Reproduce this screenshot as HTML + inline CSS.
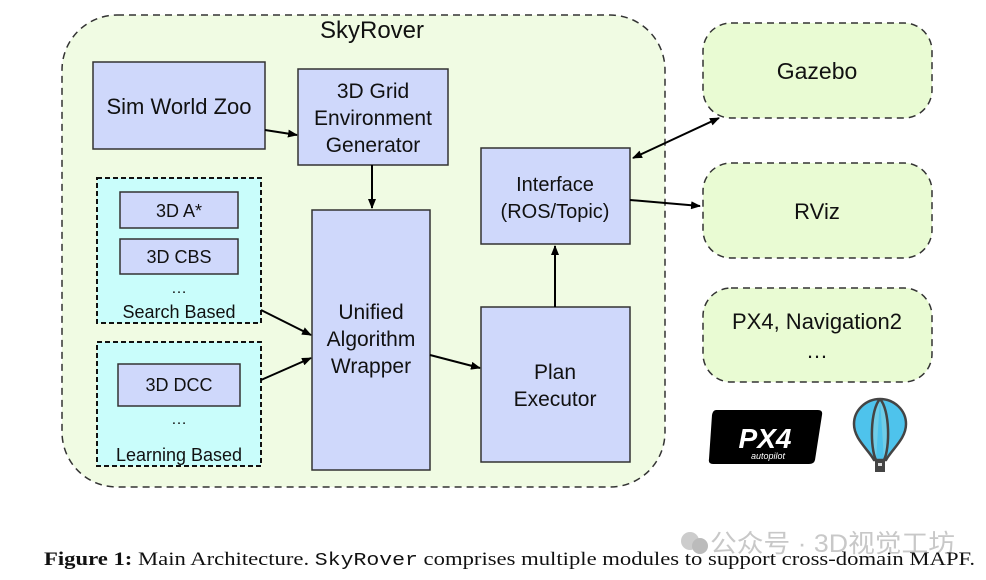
<!DOCTYPE html>
<html><head><meta charset="utf-8"><style>
html,body{margin:0;padding:0;background:#fff;width:986px;height:580px;overflow:hidden}
svg{display:block}
.s{font-family:"Liberation Sans",sans-serif;fill:#111}
</style></head><body>
<svg width="986" height="580" viewBox="0 0 986 580" xmlns="http://www.w3.org/2000/svg">
<defs>
<marker id="a" markerWidth="10" markerHeight="8" refX="9" refY="4" orient="auto" markerUnits="userSpaceOnUse">
<path d="M0,0 L10,4 L0,8 Z" fill="#000"/></marker>
<marker id="b" markerWidth="10" markerHeight="8" refX="1" refY="4" orient="auto" markerUnits="userSpaceOnUse">
<path d="M10,0 L0,4 L10,8 Z" fill="#000"/></marker>
</defs>
<rect x="62" y="15" width="603" height="472" rx="55" fill="#f0fbe3" stroke="#333" stroke-width="1.5" stroke-dasharray="7,5"/>
<text class="s" x="372" y="38" font-size="24" text-anchor="middle">SkyRover</text>

<rect x="93" y="62" width="172" height="87" fill="#cfd8fb" stroke="#333" stroke-width="1.5"/>
<text class="s" x="179" y="114" font-size="22" text-anchor="middle">Sim World Zoo</text>

<rect x="298" y="69" width="150" height="96" fill="#cfd8fb" stroke="#333" stroke-width="1.5"/>
<text class="s" font-size="21" text-anchor="middle"><tspan x="373" y="98">3D Grid</tspan><tspan x="373" y="125">Environment</tspan><tspan x="373" y="152">Generator</tspan></text>

<rect x="97" y="178" width="164" height="145" fill="#c9fdfb" stroke="#111" stroke-width="2" stroke-dasharray="5,3"/>
<rect x="120" y="192" width="118" height="36" fill="#cfd8fb" stroke="#333" stroke-width="1.5"/>
<text class="s" x="179" y="217" font-size="18" text-anchor="middle">3D A*</text>
<rect x="120" y="239" width="118" height="35" fill="#cfd8fb" stroke="#333" stroke-width="1.5"/>
<text class="s" x="179" y="263" font-size="18" text-anchor="middle">3D CBS</text>
<text class="s" x="179" y="293" font-size="16" text-anchor="middle">…</text>
<text class="s" x="179" y="318" font-size="18" text-anchor="middle">Search Based</text>

<rect x="97" y="342" width="164" height="124" fill="#c9fdfb" stroke="#111" stroke-width="2" stroke-dasharray="5,3"/>
<rect x="118" y="364" width="122" height="42" fill="#cfd8fb" stroke="#333" stroke-width="1.5"/>
<text class="s" x="179" y="391" font-size="18" text-anchor="middle">3D DCC</text>
<text class="s" x="179" y="424" font-size="16" text-anchor="middle">…</text>
<text class="s" x="179" y="461" font-size="18" text-anchor="middle">Learning Based</text>

<rect x="312" y="210" width="118" height="260" fill="#cfd8fb" stroke="#333" stroke-width="1.5"/>
<text class="s" font-size="21" text-anchor="middle"><tspan x="371" y="319">Unified</tspan><tspan x="371" y="346">Algorithm</tspan><tspan x="371" y="373">Wrapper</tspan></text>

<rect x="481" y="148" width="149" height="96" fill="#cfd8fb" stroke="#333" stroke-width="1.5"/>
<text class="s" font-size="20" text-anchor="middle"><tspan x="555" y="191">Interface</tspan><tspan x="555" y="218">(ROS/Topic)</tspan></text>

<rect x="481" y="307" width="149" height="155" fill="#cfd8fb" stroke="#333" stroke-width="1.5"/>
<text class="s" font-size="21" text-anchor="middle"><tspan x="555" y="379">Plan</tspan><tspan x="555" y="406">Executor</tspan></text>

<rect x="703" y="23" width="229" height="95" rx="28" fill="#e9fbd3" stroke="#333" stroke-width="1.5" stroke-dasharray="7,5"/>
<text class="s" x="817" y="79" font-size="23" text-anchor="middle">Gazebo</text>
<rect x="703" y="163" width="229" height="95" rx="28" fill="#e9fbd3" stroke="#333" stroke-width="1.5" stroke-dasharray="7,5"/>
<text class="s" x="817" y="219" font-size="22" text-anchor="middle">RViz</text>
<rect x="703" y="288" width="229" height="94" rx="28" fill="#e9fbd3" stroke="#333" stroke-width="1.5" stroke-dasharray="7,5"/>
<text class="s" font-size="22" text-anchor="middle"><tspan x="817" y="329">PX4, Navigation2</tspan><tspan x="817" y="358">…</tspan></text>

<g stroke="#000" stroke-width="2" fill="none">
<line x1="265" y1="130" x2="297" y2="135" marker-end="url(#a)"/>
<line x1="372" y1="165" x2="372" y2="208" marker-end="url(#a)"/>
<line x1="261" y1="310" x2="311" y2="335" marker-end="url(#a)"/>
<line x1="261" y1="380" x2="311" y2="358" marker-end="url(#a)"/>
<line x1="430" y1="355" x2="480" y2="368" marker-end="url(#a)"/>
<line x1="555" y1="307" x2="555" y2="246" marker-end="url(#a)"/>
<line x1="630" y1="200" x2="700" y2="206" marker-end="url(#a)"/>
<line x1="633" y1="158" x2="719" y2="118" marker-start="url(#b)" marker-end="url(#a)"/>
</g>

<path d="M716,410 L818,410 Q823,410 822,415 L815,460 Q814,464 809,464 L713,464 Q708,464 709,459 L712,415 Q713,410 716,410 Z" fill="#000"/>
<text x="765" y="448" font-family="Liberation Sans,sans-serif" font-size="28" font-style="italic" font-weight="bold" fill="#fff" text-anchor="middle">PX4</text>
<text x="768" y="459" font-family="Liberation Sans,sans-serif" font-size="9" font-style="italic" fill="#fff" text-anchor="middle">autopilot</text>

<path d="M880,399 C866,399 854,410 854,424 C854,439 868,449 874,460 L886,460 C892,449 906,439 906,424 C906,410 894,399 880,399 Z" fill="#4ec3ec" stroke="#444" stroke-width="2.5"/>
<path d="M880,399 C870,410 870,448 876,460 M880,399 C890,410 890,448 884,460" fill="#6fcde8" stroke="#444" stroke-width="2.5"/>
<rect x="875" y="460" width="10" height="12" fill="#444"/>
<rect x="878" y="463" width="4" height="3" fill="#ddd"/>

<circle cx="690" cy="541" r="9" fill="#ccc"/><circle cx="700" cy="546" r="8" fill="#bbb"/>
<text x="710" y="552" font-family="Liberation Sans,'Noto Sans CJK SC',sans-serif" font-size="25" fill="#c8c8c8" textLength="245" lengthAdjust="spacingAndGlyphs">公众号 · 3D视觉工坊</text>

<text x="44" y="565" font-family="Liberation Serif,serif" font-size="19" fill="#111" textLength="931" lengthAdjust="spacingAndGlyphs"><tspan font-weight="bold">Figure 1:</tspan> Main Architecture. <tspan font-family="Liberation Mono,monospace" font-size="18">SkyRover</tspan> comprises multiple modules to support cross-domain MAPF.</text>
</svg>
</body></html>
